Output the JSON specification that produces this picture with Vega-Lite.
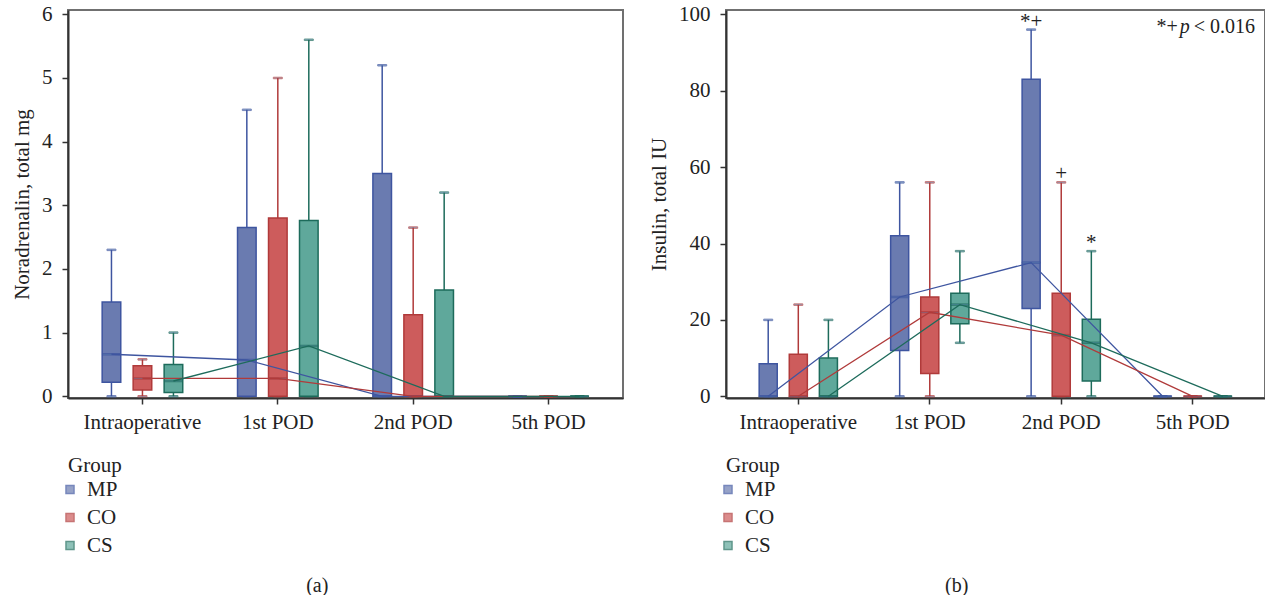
{
  "$schema": "https://vega.github.io/schema/vega-lite/v6.json",
  "background": "white",
  "padding": {"left": 10, "top": 2, "right": 0, "bottom": 0},
  "autosize": {"type": "pad"},
  "bounds": "flush",
  "spacing": 103,
  "config": {
    "font": "Liberation Serif",
    "view": {"stroke": "#707070", "strokeWidth": 2},
    "axis": {"labelFont": "Liberation Serif", "titleFont": "Liberation Serif", "labelFontSize": 21, "titleFontSize": 21, "titleFontWeight": "normal", "labelColor": "#222", "titleColor": "#222", "domainColor": "#333", "domainWidth": 2, "tickColor": "#333", "tickWidth": 1.5, "tickSize": 6, "grid": false},
    "legend": {"labelFont": "Liberation Serif", "titleFont": "Liberation Serif", "labelFontSize": 21, "titleFontSize": 21, "titleFontWeight": "normal", "labelColor": "#222", "titleColor": "#222"},
    "title": {"font": "Liberation Serif", "fontSize": 20, "fontWeight": "normal", "color": "#222"}
  },
  "datasets": {
    "nor": [
      {"t": "Intraoperative", "k": 1, "g": "MP", "min": 0, "q1": 0.22, "med": 0.66, "q3": 1.48, "max": 2.3},
      {"t": "Intraoperative", "k": 1, "g": "CO", "min": 0, "q1": 0.1, "med": 0.28, "q3": 0.48, "max": 0.58},
      {"t": "Intraoperative", "k": 1, "g": "CS", "min": 0, "q1": 0.06, "med": 0.24, "q3": 0.5, "max": 1.0},
      {"t": "1st POD", "k": 2, "g": "MP", "min": 0, "q1": 0, "med": 0.57, "q3": 2.65, "max": 4.5},
      {"t": "1st POD", "k": 2, "g": "CO", "min": 0, "q1": 0, "med": 0.28, "q3": 2.8, "max": 5.0},
      {"t": "1st POD", "k": 2, "g": "CS", "min": 0, "q1": 0, "med": 0.79, "q3": 2.76, "max": 5.6},
      {"t": "2nd POD", "k": 3, "g": "MP", "min": 0, "q1": 0, "med": 0, "q3": 3.5, "max": 5.2},
      {"t": "2nd POD", "k": 3, "g": "CO", "min": 0, "q1": 0, "med": 0, "q3": 1.28, "max": 2.65},
      {"t": "2nd POD", "k": 3, "g": "CS", "min": 0, "q1": 0, "med": 0, "q3": 1.67, "max": 3.2},
      {"t": "5th POD", "k": 4, "g": "MP", "min": 0, "q1": 0, "med": 0, "q3": 0, "max": 0},
      {"t": "5th POD", "k": 4, "g": "CO", "min": 0, "q1": 0, "med": 0, "q3": 0, "max": 0},
      {"t": "5th POD", "k": 4, "g": "CS", "min": 0, "q1": 0, "med": 0, "q3": 0, "max": 0}
    ],
    "ins": [
      {"t": "Intraoperative", "k": 1, "g": "MP", "min": 0, "q1": 0, "med": 0, "q3": 8.5, "max": 20},
      {"t": "Intraoperative", "k": 1, "g": "CO", "min": 0, "q1": 0, "med": 0, "q3": 11, "max": 24},
      {"t": "Intraoperative", "k": 1, "g": "CS", "min": 0, "q1": 0, "med": 0, "q3": 10, "max": 20},
      {"t": "1st POD", "k": 2, "g": "MP", "min": 0, "q1": 12, "med": 26, "q3": 42, "max": 56},
      {"t": "1st POD", "k": 2, "g": "CO", "min": 0, "q1": 6, "med": 22, "q3": 26, "max": 56},
      {"t": "1st POD", "k": 2, "g": "CS", "min": 14, "q1": 19, "med": 24, "q3": 27, "max": 38},
      {"t": "2nd POD", "k": 3, "g": "MP", "min": 0, "q1": 23, "med": 35, "q3": 83, "max": 96, "sig": "*+"},
      {"t": "2nd POD", "k": 3, "g": "CO", "min": 0, "q1": 0, "med": 16, "q3": 27, "max": 56, "sig": "+"},
      {"t": "2nd POD", "k": 3, "g": "CS", "min": 0, "q1": 4, "med": 14, "q3": 20.2, "max": 38, "sig": "*"},
      {"t": "5th POD", "k": 4, "g": "MP", "min": 0, "q1": 0, "med": 0, "q3": 0, "max": 0},
      {"t": "5th POD", "k": 4, "g": "CO", "min": 0, "q1": 0, "med": 0, "q3": 0, "max": 0},
      {"t": "5th POD", "k": 4, "g": "CS", "min": 0, "q1": 0, "med": 0, "q3": 0, "max": 0}
    ],
    "note": [{"t": "5th POD", "y": 96.7}]
  },
  "resolve": {
    "scale": {"x": "independent", "y": "independent", "xOffset": "independent", "fill": "independent", "stroke": "independent"},
    "legend": {"fill": "independent", "stroke": "independent"}
  },
  "hconcat": [
    {
      "width": 555,
      "height": 388,
      "data": {"name": "nor"},
      "title": {"text": "(a)", "orient": "bottom", "anchor": "middle", "frame": "bounds", "offset": 20},
      "encoding": {
        "x": {"field": "t", "type": "nominal", "sort": ["Intraoperative", "1st POD", "2nd POD", "5th POD"], "scale": {"paddingInner": 0, "paddingOuter": 0.05}, "axis": {"title": null, "labelAngle": 0, "labelPadding": 7}},
        "xOffset": {"field": "g", "type": "nominal", "sort": ["MP", "CO", "CS"], "scale": {"paddingInner": 0.4, "paddingOuter": 0.884}},
        "stroke": {"field": "g", "type": "nominal", "sort": ["MP", "CO", "CS"], "scale": {"domain": ["MP", "CO", "CS"], "range": ["#3e55a0", "#b03a3a", "#1d6b5b"]}, "legend": {"title": "Group", "orient": "none", "legendX": 0, "legendY": 445, "symbolType": "square", "symbolSize": 64, "symbolStrokeWidth": 1.5, "symbolOffset": -8.5, "labelOffset": 6.5, "rowPadding": 6, "titlePadding": 3}}
      },
      "layer": [
        {
          "mark": {"type": "rule", "strokeWidth": 1.5},
          "encoding": {
            "y": {"field": "min", "type": "quantitative", "title": "Noradrenalin, total mg", "scale": {"domain": [-0.027, 6.068], "nice": false, "zero": false}, "axis": {"values": [0, 1, 2, 3, 4, 5, 6], "format": "d", "labelPadding": 10, "titlePadding": 9}},
            "y2": {"field": "max"}
          }
        },
        {
          "mark": {"type": "tick", "size": 9, "thickness": 1.5},
          "encoding": {"y": {"field": "max", "type": "quantitative", "title": "Noradrenalin, total mg", "scale": {"domain": [-0.027, 6.068], "nice": false, "zero": false}}}
        },
        {
          "mark": {"type": "tick", "size": 9, "thickness": 1.5},
          "encoding": {"y": {"field": "min", "type": "quantitative", "title": "Noradrenalin, total mg", "scale": {"domain": [-0.027, 6.068], "nice": false, "zero": false}}}
        },
        {
          "mark": {"type": "bar", "strokeWidth": 1.5},
          "encoding": {
            "y": {"field": "q1", "type": "quantitative", "title": "Noradrenalin, total mg", "scale": {"domain": [-0.027, 6.068], "nice": false, "zero": false}},
            "y2": {"field": "q3"},
            "fill": {"field": "g", "type": "nominal", "sort": ["MP", "CO", "CS"], "scale": {"domain": ["MP", "CO", "CS"], "range": ["#6a7bb0", "#cd5c5c", "#5fa89b"]}, "legend": {"title": "Group", "orient": "none", "legendX": 0, "legendY": 445, "symbolType": "square", "symbolSize": 64, "symbolStrokeWidth": 1.5, "symbolOffset": -8.5, "labelOffset": 6.5, "rowPadding": 6, "titlePadding": 3}}
          }
        },
        {
          "mark": {"type": "tick", "size": 18, "thickness": 1.5},
          "encoding": {"y": {"field": "med", "type": "quantitative", "title": "Noradrenalin, total mg", "scale": {"domain": [-0.027, 6.068], "nice": false, "zero": false}}}
        },
        {
          "mark": {"type": "line", "strokeWidth": 1.3},
          "encoding": {
            "y": {"field": "med", "type": "quantitative", "title": "Noradrenalin, total mg", "scale": {"domain": [-0.027, 6.068], "nice": false, "zero": false}},
            "order": {"field": "k", "type": "quantitative"}
          }
        }
      ]
    },
    {
      "width": 539,
      "height": 388,
      "data": {"name": "ins"},
      "title": {"text": "(b)", "orient": "bottom", "anchor": "middle", "frame": "bounds", "offset": 20},
      "encoding": {
        "x": {"field": "t", "type": "nominal", "sort": ["Intraoperative", "1st POD", "2nd POD", "5th POD"], "scale": {"paddingInner": 0, "paddingOuter": 0.05}, "axis": {"title": null, "labelAngle": 0, "labelPadding": 7}}
      },
      "layer": [
        {
          "mark": {"type": "rule", "strokeWidth": 1.5},
          "encoding": {
            "xOffset": {"field": "g", "type": "nominal", "sort": ["MP", "CO", "CS"], "scale": {"paddingInner": 0.4, "paddingOuter": 0.884}},
            "stroke": {"field": "g", "type": "nominal", "sort": ["MP", "CO", "CS"], "scale": {"domain": ["MP", "CO", "CS"], "range": ["#3e55a0", "#b03a3a", "#1d6b5b"]}, "legend": {"title": "Group", "orient": "none", "legendX": 0, "legendY": 445, "symbolType": "square", "symbolSize": 64, "symbolStrokeWidth": 1.5, "symbolOffset": -8.5, "labelOffset": 6.5, "rowPadding": 6, "titlePadding": 3}},
            "y": {"field": "min", "type": "quantitative", "title": "Insulin, total IU", "scale": {"domain": [-0.445, 101.13], "nice": false, "zero": false}, "axis": {"values": [0, 20, 40, 60, 80, 100], "format": "d", "labelPadding": 10, "titlePadding": 9}},
            "y2": {"field": "max"}
          }
        },
        {
          "mark": {"type": "tick", "size": 9, "thickness": 1.5},
          "encoding": {
            "xOffset": {"field": "g", "type": "nominal", "sort": ["MP", "CO", "CS"], "scale": {"paddingInner": 0.4, "paddingOuter": 0.884}},
            "stroke": {"field": "g", "type": "nominal", "sort": ["MP", "CO", "CS"], "scale": {"domain": ["MP", "CO", "CS"], "range": ["#3e55a0", "#b03a3a", "#1d6b5b"]}},
            "y": {"field": "max", "type": "quantitative", "title": "Insulin, total IU", "scale": {"domain": [-0.445, 101.13], "nice": false, "zero": false}}
          }
        },
        {
          "mark": {"type": "tick", "size": 9, "thickness": 1.5},
          "encoding": {
            "xOffset": {"field": "g", "type": "nominal", "sort": ["MP", "CO", "CS"], "scale": {"paddingInner": 0.4, "paddingOuter": 0.884}},
            "stroke": {"field": "g", "type": "nominal", "sort": ["MP", "CO", "CS"], "scale": {"domain": ["MP", "CO", "CS"], "range": ["#3e55a0", "#b03a3a", "#1d6b5b"]}},
            "y": {"field": "min", "type": "quantitative", "title": "Insulin, total IU", "scale": {"domain": [-0.445, 101.13], "nice": false, "zero": false}}
          }
        },
        {
          "mark": {"type": "bar", "strokeWidth": 1.5},
          "encoding": {
            "xOffset": {"field": "g", "type": "nominal", "sort": ["MP", "CO", "CS"], "scale": {"paddingInner": 0.4, "paddingOuter": 0.884}},
            "stroke": {"field": "g", "type": "nominal", "sort": ["MP", "CO", "CS"], "scale": {"domain": ["MP", "CO", "CS"], "range": ["#3e55a0", "#b03a3a", "#1d6b5b"]}},
            "y": {"field": "q1", "type": "quantitative", "title": "Insulin, total IU", "scale": {"domain": [-0.445, 101.13], "nice": false, "zero": false}},
            "y2": {"field": "q3"},
            "fill": {"field": "g", "type": "nominal", "sort": ["MP", "CO", "CS"], "scale": {"domain": ["MP", "CO", "CS"], "range": ["#6a7bb0", "#cd5c5c", "#5fa89b"]}, "legend": {"title": "Group", "orient": "none", "legendX": 0, "legendY": 445, "symbolType": "square", "symbolSize": 64, "symbolStrokeWidth": 1.5, "symbolOffset": -8.5, "labelOffset": 6.5, "rowPadding": 6, "titlePadding": 3}}
          }
        },
        {
          "mark": {"type": "tick", "size": 18, "thickness": 1.5},
          "encoding": {
            "xOffset": {"field": "g", "type": "nominal", "sort": ["MP", "CO", "CS"], "scale": {"paddingInner": 0.4, "paddingOuter": 0.884}},
            "stroke": {"field": "g", "type": "nominal", "sort": ["MP", "CO", "CS"], "scale": {"domain": ["MP", "CO", "CS"], "range": ["#3e55a0", "#b03a3a", "#1d6b5b"]}},
            "y": {"field": "med", "type": "quantitative", "title": "Insulin, total IU", "scale": {"domain": [-0.445, 101.13], "nice": false, "zero": false}}
          }
        },
        {
          "mark": {"type": "line", "strokeWidth": 1.3},
          "encoding": {
            "xOffset": {"field": "g", "type": "nominal", "sort": ["MP", "CO", "CS"], "scale": {"paddingInner": 0.4, "paddingOuter": 0.884}},
            "stroke": {"field": "g", "type": "nominal", "sort": ["MP", "CO", "CS"], "scale": {"domain": ["MP", "CO", "CS"], "range": ["#3e55a0", "#b03a3a", "#1d6b5b"]}},
            "y": {"field": "med", "type": "quantitative", "title": "Insulin, total IU", "scale": {"domain": [-0.445, 101.13], "nice": false, "zero": false}},
            "order": {"field": "k", "type": "quantitative"}
          }
        },
        {
          "transform": [{"filter": "isValid(datum.sig)"}],
          "mark": {"type": "text", "baseline": "alphabetic", "dy": -2, "fontSize": 21, "color": "#222"},
          "encoding": {
            "xOffset": {"field": "g", "type": "nominal", "sort": ["MP", "CO", "CS"], "scale": {"paddingInner": 0.4, "paddingOuter": 0.884}},
            "y": {"field": "max", "type": "quantitative", "title": "Insulin, total IU", "scale": {"domain": [-0.445, 101.13], "nice": false, "zero": false}},
            "text": {"field": "sig"}
          }
        },
        {
          "data": {"name": "note"},
          "mark": {"type": "text", "align": "right", "baseline": "middle", "dx": -15, "fontSize": 20, "color": "#222"},
          "encoding": {
            "y": {"field": "y", "type": "quantitative", "title": "Insulin, total IU", "scale": {"domain": [-0.445, 101.13], "nice": false, "zero": false}},
            "text": {"value": "*+"}
          }
        },
        {
          "data": {"name": "note"},
          "mark": {"type": "text", "align": "left", "baseline": "middle", "dx": -13, "fontSize": 20, "fontStyle": "italic", "color": "#222"},
          "encoding": {
            "y": {"field": "y", "type": "quantitative", "title": "Insulin, total IU", "scale": {"domain": [-0.445, 101.13], "nice": false, "zero": false}},
            "text": {"value": "p"}
          }
        },
        {
          "data": {"name": "note"},
          "mark": {"type": "text", "align": "left", "baseline": "middle", "dx": 1, "fontSize": 20, "color": "#222"},
          "encoding": {
            "y": {"field": "y", "type": "quantitative", "title": "Insulin, total IU", "scale": {"domain": [-0.445, 101.13], "nice": false, "zero": false}},
            "text": {"value": "< 0.016"}
          }
        }
      ]
    }
  ]
}
